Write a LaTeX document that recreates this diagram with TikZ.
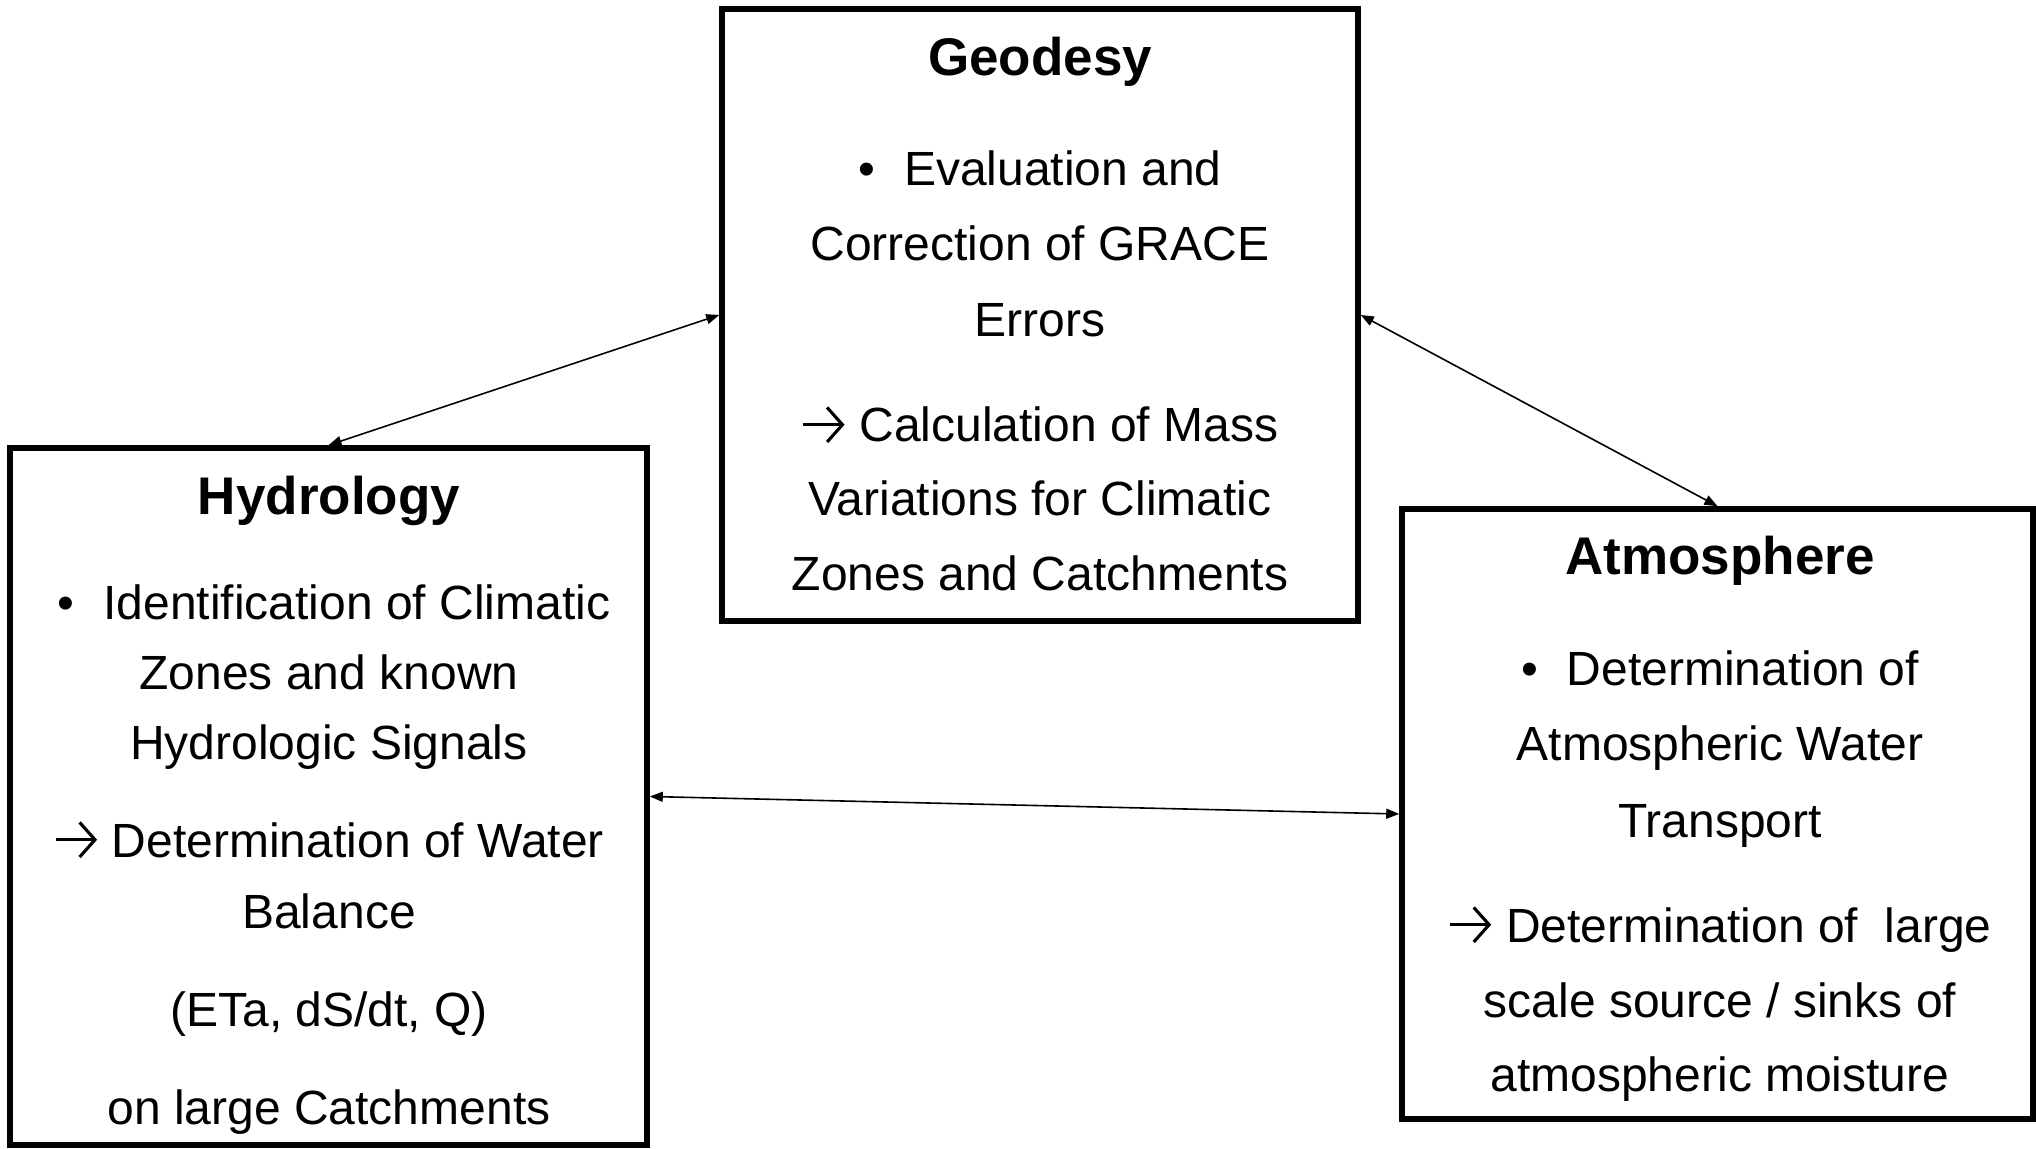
\documentclass[tikz,border=0pt]{standalone}
\usepackage{fontspec}
\setmainfont{Liberation Sans}
\usetikzlibrary{arrows.meta}
\newcommand\wingarrow{\tikz[baseline=0pt]\draw[line width=0.065em, -{Straight Barb[length=0.32em,width=0.72em,line width=0.065em]}] (0,0.36em) -- (0.86em,0.36em);}
\begin{document}
\begin{tikzpicture}[x=0.5pt,y=-0.5pt,
  box/.style={draw, line width=2.8pt, inner sep=0pt},
  body/.style={inner sep=0pt, anchor=base, font=\fontsize{24}{28}\selectfont},
  ttl/.style={inner sep=0pt, anchor=base, font=\fontsize{26.5}{30}\selectfont\bfseries},
  link/.style={{Triangle[length=6.5pt,width=5pt]}-{Triangle[length=6.5pt,width=5pt]}, line width=0.8pt}]
\useasboundingbox (0,0) rectangle (2036,1149);

% boxes
\node[box, minimum width=318pt, minimum height=306pt] (geo) at (1040,315) {};
\node[box, minimum width=318.5pt, minimum height=348.5pt] (hyd) at (328.5,796.5) {};
\node[box, minimum width=315.5pt, minimum height=305pt] (atm) at (1717.5,814) {};

% Geodesy text
\node[ttl]  (g0) at (1040,76)  {Geodesy};
\node[body] (g1) at (1040,186) {•\hspace{0.6em}Evaluation and};
\node[body] (g2) at (1040,261) {Correction of GRACE};
\node[body] (g3) at (1040,337) {Errors};
\node[body] (g4) at (1040,442) {\wingarrow\ Calculation of Mass};
\node[body] (g5) at (1040,516) {Variations for Climatic};
\node[body] (g6) at (1040,591) {Zones and Catchments};

% Hydrology text
\node[ttl]  (h0) at (329,515)  {Hydrology};
\node[body] (h1) at (334,620)  {•\hspace{0.6em}Identification of Climatic};
\node[body] (h2) at (329,690)  {Zones and known};
\node[body] (h3) at (329,760)  {Hydrologic Signals};
\node[body] (h4) at (329,857)  {\wingarrow\ Determination of Water};
\node[body] (h5) at (329,928)  {Balance};
\node[body] (h6) at (329,1026) {(ETa, dS/dt, Q)};
\node[body] (h7) at (329,1124) {on large Catchments};

% Atmosphere text
\node[ttl]  (a0) at (1720,575)  {Atmosphere};
\node[body] (a1) at (1720,686)  {•\hspace{0.6em}Determination of};
\node[body] (a2) at (1720,761)  {Atmospheric Water};
\node[body] (a3) at (1720,837)  {Transport};
\node[body] (a4) at (1720,942)  {\wingarrow\ Determination of\ \ large};
\node[body] (a5) at (1720,1017) {scale source / sinks of};
\node[body] (a6) at (1720,1091) {atmospheric moisture};

% connectors
\draw[link] (hyd.north) -- (geo.west);
\draw[link] (geo.east) -- (atm.north);
\draw[link] (hyd.east) -- (atm.west);
\end{tikzpicture}
\end{document}
